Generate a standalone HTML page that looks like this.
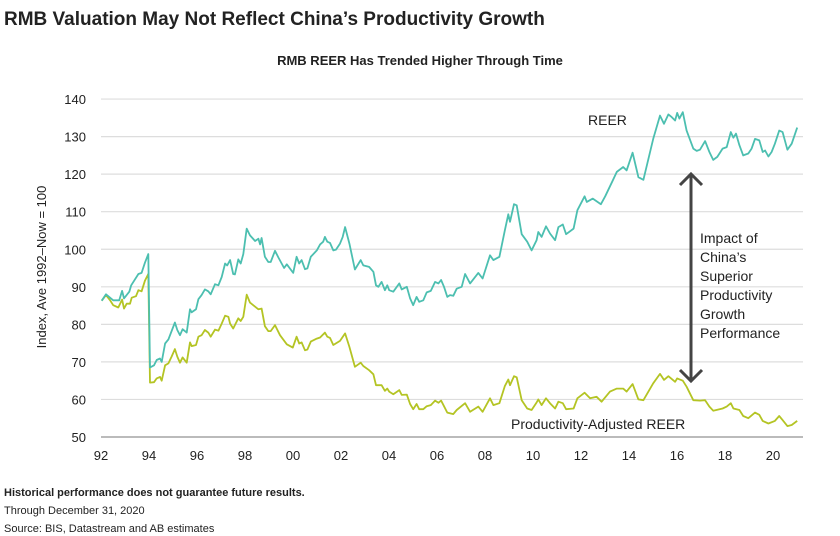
<!DOCTYPE html>
<html><head><meta charset="utf-8">
<style>
body{margin:0;background:#fff;width:840px;height:536px;overflow:hidden;font-family:"Liberation Sans",sans-serif;}
svg{display:block}
</style></head>
<body>
<svg id="chart" width="840" height="536">
<text x="4" y="25" font-size="19" font-weight="bold" fill="#222">RMB Valuation May Not Reflect China’s Productivity Growth</text>
<text x="420" y="65" font-size="13" font-weight="bold" fill="#222" text-anchor="middle">RMB REER Has Trended Higher Through Time</text>
<text transform="translate(46,267) rotate(-90)" font-size="13" fill="#222" text-anchor="middle">Index, Ave 1992–Now = 100</text>
<g id="grid"></g>
<g id="ylabels"></g>
<g id="xlabels"></g>
<g id="series"></g>
<text x="588" y="125" font-size="14" fill="#222">REER</text>
<text x="511" y="429" font-size="14" fill="#222">Productivity-Adjusted REER</text>
<g stroke="#444" stroke-width="3" fill="none">
<line x1="691" y1="175" x2="691" y2="380"/>
<polyline points="680,185 691,174 702,185"/>
<polyline points="680,370 691,381 702,370"/>
</g>
<g font-size="14" fill="#222">
<text x="700" y="243">Impact of</text>
<text x="700" y="262">China’s</text>
<text x="700" y="281">Superior</text>
<text x="700" y="300">Productivity</text>
<text x="700" y="319">Growth</text>
<text x="700" y="338">Performance</text>
</g>
<text x="4" y="496" font-size="11" font-weight="bold" fill="#222">Historical performance does not guarantee future results.</text>
<text x="4" y="514" font-size="11" fill="#222">Through December 31, 2020</text>
<text x="4" y="532" font-size="11" fill="#222">Source: BIS, Datastream and AB estimates</text>
</svg>
<script>
const yTicks=[50,60,70,80,90,100,110,120,130,140];
const xTickYears=[1992,1994,1996,1998,2000,2002,2004,2006,2008,2010,2012,2014,2016,2018,2020];
const xTickLabels=["92","94","96","98","00","02","04","06","08","10","12","14","16","18","20"];
const reerDates=[1992.03,1992.21,1992.51,1992.76,1992.88,1992.96,1993.18,1993.26,1993.56,1993.69,1993.83,1993.97,1994.04,1994.21,1994.32,1994.46,1994.53,1994.67,1994.81,1995.08,1995.18,1995.29,1995.40,1995.57,1995.71,1995.78,1995.96,1996.06,1996.19,1996.33,1996.47,1996.57,1996.75,1996.89,1997.03,1997.17,1997.26,1997.38,1997.51,1997.58,1997.72,1997.82,1997.93,1998.07,1998.21,1998.42,1998.56,1998.63,1998.69,1998.83,1998.97,1999.07,1999.25,1999.39,1999.63,1999.74,2000.01,2000.15,2000.26,2000.36,2000.50,2000.60,2000.74,2000.99,2001.13,2001.26,2001.33,2001.43,2001.54,2001.68,2001.79,2001.96,2002.07,2002.17,2002.35,2002.58,2002.82,2002.93,2003.17,2003.35,2003.46,2003.56,2003.69,2003.83,2003.93,2004.01,2004.18,2004.43,2004.53,2004.74,2004.88,2005.01,2005.15,2005.26,2005.43,2005.57,2005.74,2005.92,2006.06,2006.17,2006.29,2006.43,2006.54,2006.68,2006.82,2007.03,2007.17,2007.38,2007.72,2007.90,2008.21,2008.35,2008.60,2008.83,2008.97,2009.04,2009.21,2009.32,2009.53,2009.76,2009.94,2010.15,2010.22,2010.36,2010.54,2010.71,2010.92,2011.06,2011.24,2011.38,2011.69,2011.85,2012.15,2012.24,2012.49,2012.83,2013.01,2013.33,2013.49,2013.76,2013.90,2014.15,2014.39,2014.60,2015.01,2015.29,2015.46,2015.64,2015.78,2015.92,2016.01,2016.10,2016.24,2016.40,2016.68,2016.82,2016.96,2017.17,2017.35,2017.51,2017.68,2017.90,2018.07,2018.24,2018.35,2018.46,2018.60,2018.76,2018.97,2019.11,2019.25,2019.43,2019.57,2019.67,2019.81,2019.94,2020.08,2020.26,2020.40,2020.60,2020.78,2021.01];
const reerValues=[86.3,88.0,86.4,86.4,88.9,86.9,88.7,90.4,93.4,93.7,96.4,98.7,68.5,69.1,70.5,70.9,70.0,74.9,76.0,80.5,78.5,77.1,78.7,77.8,84.0,83.2,84.0,86.7,87.8,89.3,88.8,88.0,90.7,90.4,92.6,96.2,95.7,97.1,93.4,93.3,97.3,96.2,98.7,105.5,103.7,102.2,102.8,101.3,103.0,98.0,96.6,96.6,99.6,97.8,95.0,96.0,93.7,98.0,96.2,97.1,94.7,94.9,98.0,99.7,101.3,102.0,103.3,102.0,101.7,99.7,99.9,101.5,103.3,105.9,101.5,94.6,97.1,95.7,95.3,94.0,90.4,90.0,91.3,89.1,90.4,89.1,88.7,90.9,89.3,90.0,86.9,85.1,87.3,86.0,86.4,88.5,88.9,91.3,90.9,91.8,90.0,87.3,87.8,87.6,89.5,90.0,93.4,90.9,93.7,92.2,98.4,97.1,98.0,105.1,109.3,107.3,112.0,111.7,104.0,102.0,99.7,102.4,104.6,103.3,106.1,104.2,102.4,105.9,106.6,104.0,105.5,110.4,114.1,112.6,113.5,112.0,114.1,118.4,120.6,121.9,121.0,125.7,119.2,118.5,129.4,135.6,133.4,135.9,135.2,134.3,136.3,134.8,136.5,131.6,126.8,126.2,126.5,128.8,125.9,123.8,124.6,126.8,127.2,131.2,129.7,130.8,127.7,125.0,125.5,126.8,129.4,129.0,125.9,126.3,124.7,125.9,128.1,131.6,131.2,126.5,128.1,132.4];
const adjDates=[1992.03,1992.21,1992.38,1992.51,1992.72,1992.88,1992.96,1993.07,1993.21,1993.28,1993.46,1993.56,1993.69,1993.83,1993.97,1994.04,1994.21,1994.32,1994.46,1994.53,1994.67,1994.81,1994.94,1995.08,1995.18,1995.29,1995.40,1995.57,1995.71,1995.78,1995.96,1996.06,1996.19,1996.33,1996.47,1996.57,1996.75,1996.89,1997.03,1997.17,1997.31,1997.38,1997.51,1997.72,1997.82,1997.93,1998.07,1998.21,1998.42,1998.56,1998.69,1998.83,1998.97,1999.07,1999.25,1999.46,1999.74,1999.99,2000.15,2000.26,2000.36,2000.50,2000.60,2000.74,2000.99,2001.13,2001.33,2001.43,2001.54,2001.68,2001.96,2002.17,2002.35,2002.58,2002.82,2002.93,2003.17,2003.35,2003.46,2003.69,2003.83,2003.93,2004.01,2004.18,2004.43,2004.53,2004.74,2004.88,2005.01,2005.15,2005.26,2005.43,2005.57,2005.74,2005.92,2006.06,2006.17,2006.29,2006.43,2006.68,2006.82,2007.17,2007.38,2007.72,2007.90,2008.21,2008.35,2008.60,2008.83,2008.97,2009.04,2009.21,2009.32,2009.53,2009.76,2009.94,2010.15,2010.22,2010.36,2010.54,2010.71,2010.92,2011.06,2011.24,2011.38,2011.69,2011.85,2012.15,2012.38,2012.65,2012.86,2013.21,2013.49,2013.76,2013.90,2014.15,2014.39,2014.60,2015.01,2015.29,2015.46,2015.64,2015.92,2016.01,2016.24,2016.40,2016.68,2016.96,2017.17,2017.35,2017.51,2017.90,2018.07,2018.24,2018.35,2018.60,2018.76,2018.97,2019.25,2019.43,2019.57,2019.81,2020.08,2020.26,2020.40,2020.60,2020.78,2021.01];
const adjValues=[86.3,87.8,86.4,85.1,84.5,86.6,84.2,85.5,85.5,87.1,87.5,89.1,88.8,91.6,93.4,64.5,64.6,65.6,66.0,65.0,69.1,69.6,71.4,73.4,71.4,69.8,71.2,69.8,75.2,74.2,74.5,76.7,77.1,78.5,77.8,76.7,78.6,78.3,80.2,82.3,82.0,80.2,78.9,81.6,80.9,82.0,87.9,85.8,84.7,84.0,84.2,79.5,78.2,78.2,79.8,77.1,74.7,73.8,76.7,74.9,75.2,73.1,73.3,75.4,76.2,76.5,77.8,76.7,76.4,74.5,75.6,77.6,74.0,68.7,69.8,68.9,67.8,66.7,63.8,63.8,62.3,62.9,62.1,61.4,62.5,61.2,61.3,58.8,57.4,58.8,57.4,57.4,58.2,58.5,59.7,59.1,59.7,58.2,56.5,56.1,57.2,59.0,56.7,58.1,56.7,60.3,58.5,59.0,63.6,65.3,63.8,66.2,65.9,59.8,57.6,57.2,59.2,60.0,58.5,60.3,59.0,57.6,59.4,59.0,57.4,57.6,60.3,61.8,60.3,60.7,59.4,62.1,62.9,62.9,62.1,64.1,60.0,59.8,64.3,66.8,65.2,66.2,64.7,65.6,65.0,63.4,59.8,59.7,59.8,58.1,57.0,57.6,58.1,59.0,57.6,57.2,55.6,55.0,56.5,55.9,54.3,53.6,54.3,55.6,54.5,52.9,53.2,54.3];

const NS="http://www.w3.org/2000/svg";
const X0=101,PX_PER_YEAR=24,Y0=437,PX_PER_UNIT=3.755,XR=803;
function xScale(yr){return X0+(yr-1992)*PX_PER_YEAR;}
function yScale(v){return Y0-(v-50)*PX_PER_UNIT;}
function mk(tag,attrs,parent){const e=document.createElementNS(NS,tag);for(const k in attrs)e.setAttribute(k,attrs[k]);parent.appendChild(e);return e;}

const grid=document.getElementById('grid');
const yl=document.getElementById('ylabels');
yTicks.forEach(function(t){
  const ln=mk('line',{x1:X0,x2:XR,y1:yScale(t),y2:yScale(t),stroke:t===50?'#bbb':'#ddd','stroke-width':t===50?2:1.2},grid);
  
  
  const tx=mk('text',{x:86,y:yScale(t)+5,'font-size':13,fill:'#222','text-anchor':'end'},yl);
  tx.textContent=t;
  
  
});
const xl=document.getElementById('xlabels');
xTickYears.forEach(function(y,i){
  const tx=mk('text',{x:xScale(y),y:460,'font-size':13,fill:'#222','text-anchor':'middle'},xl);
  tx.textContent=xTickLabels[i];
  
  
});
function drawLine(dates,vals,color,name){
  const pts=dates.map(function(d,i){return xScale(d).toFixed(1)+','+yScale(vals[i]).toFixed(1);}).join(' ');
  const pl=mk('polyline',{points:pts,fill:'none',stroke:color,'stroke-width':1.8,'stroke-linejoin':'round'},document.getElementById('series'));
  
  
}
drawLine(adjDates,adjValues,'#b4c424','adjusted-reer-line');
drawLine(reerDates,reerValues,'#4cbfb0','reer-line');
</script>
</body></html>
